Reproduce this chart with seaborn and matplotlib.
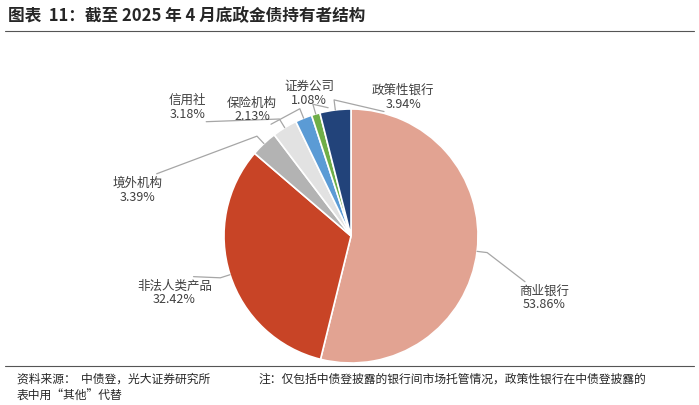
import matplotlib
matplotlib.use('Agg')
import matplotlib.pyplot as plt
import seaborn as sns
import numpy as np

sns.set_theme(style='white')
plt.rcParams['font.family'] = ['Noto Sans CJK SC', 'DejaVu Sans']

# data
holders = ['商业银行', '非法人类产品', '境外机构', '信用社', '保险机构', '证券公司', '政策性银行']
shares = [53.86, 32.42, 3.39, 3.18, 2.13, 1.08, 3.94]
colors = ['#e2a392', '#c84426', '#b3b3b3', '#e2e2e2', '#5b9bd5', '#6fae48', '#22437a']
# label positions (data coords of pie axes)
label_pos = [(1.52, -0.48), (-1.39, -0.44), (-1.68, 0.37), (-1.29, 1.02),
             (-0.78, 1.0), (-0.33, 1.13), (0.41, 1.10)]

fig = plt.figure(figsize=(6.99, 4.06), dpi=100)
W, H = 699, 406
cx, cy, r = 351, 237, 127
ax = fig.add_axes([(cx - r) / W, (H - cy - r) / H, 2 * r / W, 2 * r / H])
wedges, _ = ax.pie(shares, colors=colors, startangle=90, counterclock=False,
                   wedgeprops={'edgecolor': 'white', 'linewidth': 1.2})
ax.set_xlim(-1, 1)
ax.set_ylim(-1, 1)
ax.set_aspect('auto')
ax.axis('off')

for w, name, val, (tx, ty) in zip(wedges, holders, shares, label_pos):
    ang = np.deg2rad((w.theta1 + w.theta2) / 2)
    x0, y0 = np.cos(ang), np.sin(ang)
    ex = tx + (-0.05 if tx > x0 else 0.05) * 0
    ey = ty - 0.12 if ty > y0 else ty + 0.12
    ax.plot([x0, x0 * 1.08, tx + (0.15 if tx < x0 else -0.15)],
            [y0, y0 * 1.08, ey], color='#a6a6a6', lw=0.9, clip_on=False)
    ax.text(tx, ty, f'{name}\n{val:.2f}%', ha='center', va='center',
            fontsize=9, color='#404040', linespacing=1.1)

fig.text(8 / W, 1 - 16 / H, '图表  11：截至 2025 年 4 月底政金债持有者结构',
         fontsize=12, fontweight='bold', va='center', ha='left')
fig.add_artist(plt.Line2D([5 / W, 694 / W], [1 - 32 / H] * 2, color='#555555', lw=0.8))
fig.add_artist(plt.Line2D([5 / W, 694 / W], [1 - 367 / H] * 2, color='#555555', lw=0.8))
fig.text(17 / W, 1 - 379 / H, '资料来源：  中债登，光大证券研究所', fontsize=8.5, va='center')
fig.text(258 / W, 1 - 379 / H, '注：仅包括中债登披露的银行间市场托管情况，政策性银行在中债登披露的',
         fontsize=8.5, va='center')
fig.text(17 / W, 1 - 396 / H, '表中用“其他”代替', fontsize=8.5, va='center')

fig.savefig('out.png', dpi=100)
